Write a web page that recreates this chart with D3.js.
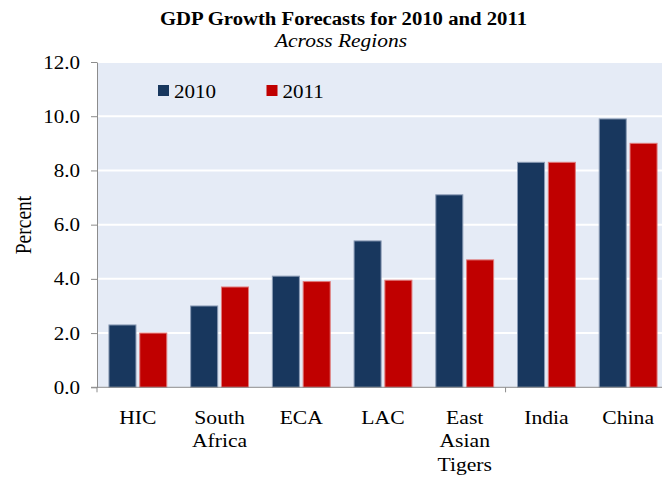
<!DOCTYPE html>
<html>
<head>
<meta charset="utf-8">
<script src="https://cdn.jsdelivr.net/npm/d3@7"></script>
<style>
  html, body { margin: 0; padding: 0; background: #ffffff; }
  svg { display: block; }
  text { font-family: "Liberation Serif", "Times New Roman", serif; fill: #000; }
</style>
</head>
<body>
<svg id="chart" width="662" height="477"></svg>
<script>
// Regions and forecast values (percent)
const categories = ["HIC", "South Africa", "ECA", "LAC", "East Asian Tigers", "India", "China"];
const categoryLines = [["HIC"], ["South", "Africa"], ["ECA"], ["LAC"], ["East", "Asian", "Tigers"], ["India"], ["China"]];
const seriesNames = ["2010", "2011"];
const values2010 = [2.3, 3.0, 4.1, 5.4, 7.1, 8.3, 9.9];
const values2011 = [2.0, 3.7, 3.9, 3.95, 4.7, 8.3, 9.0];
const yTicks = [0, 2, 4, 6, 8, 10, 12];
const titleText = "GDP Growth Forecasts for 2010 and 2011";
const subtitleText = "Across Regions";
const yLabel = "Percent";

const colors = { "2010": "#18375e", "2011": "#c00000" };
const strokes = { "2010": "#8a9bb5", "2011": "#e07a7a" };
const SX = 1.17; // horizontal text stretch

const svg = d3.select("#chart");
const plot = { left: 97, right: 669, top: 62, bottom: 387.3 };

const x = d3.scaleBand().domain(categories).range([plot.left, plot.right])
  .paddingInner(0.28).paddingOuter(0.14);
const xs = d3.scaleBand().domain(seriesNames).range([0, x.bandwidth()]).paddingInner(0.09);
const y = d3.scaleLinear().domain([0, 12]).range([plot.bottom, plot.top]);

const rows = categories.map((c, i) => ({ cat: c, vals: { "2010": values2010[i], "2011": values2011[i] } }));

// plot background
svg.append("rect")
  .attr("x", plot.left).attr("y", plot.top)
  .attr("width", plot.right - plot.left).attr("height", plot.bottom - plot.top)
  .attr("fill", "#e5ebf6");

// horizontal gridlines
svg.append("g").selectAll("line").data(yTicks.filter(t => t > 0)).join("line")
  .attr("x1", plot.left).attr("x2", plot.right)
  .attr("y1", d => y(d)).attr("y2", d => y(d))
  .attr("stroke", "#ffffff").attr("stroke-width", 2);

// bars
svg.append("g").selectAll("g").data(rows).join("g")
  .attr("transform", d => `translate(${x(d.cat)},0)`)
  .selectAll("rect").data(d => seriesNames.map(s => ({ s, v: d.vals[s] }))).join("rect")
  .attr("x", d => xs(d.s) + 0.5)
  .attr("y", d => y(d.v))
  .attr("width", xs.bandwidth() - 1)
  .attr("height", d => y(0) - y(d.v))
  .attr("fill", d => colors[d.s])
  .attr("stroke", d => strokes[d.s])
  .attr("stroke-width", 1);

// y axis
const yAxis = svg.append("g").attr("transform", `translate(${plot.left},0)`)
  .call(d3.axisLeft(y).tickValues(yTicks).tickFormat(d3.format(".1f")).tickSize(6).tickSizeOuter(0));
yAxis.select(".domain").attr("stroke", "#8c8c8c");
yAxis.selectAll(".tick line").attr("stroke", "#8c8c8c");
yAxis.selectAll(".tick text")
  .attr("x", -17 / SX).attr("dy", "0.34em")
  .attr("transform", `scale(${SX},1)`)
  .style("font-size", "18px").style("font-family", "'Liberation Serif', serif").attr("fill", "#000");

// x axis: ticks every five categories
const xAxisG = svg.append("g").attr("transform", `translate(0,${plot.bottom})`);
xAxisG.append("line").attr("x1", plot.left - 6).attr("x2", plot.right)
  .attr("stroke", "#8c8c8c").attr("stroke-width", 1);
const boundaries = [0, 5].map(i => x(categories[i]) - x.step() * x.paddingInner() / 2);
xAxisG.selectAll("line.tk").data(boundaries).join("line").attr("class", "tk")
  .attr("x1", d => d).attr("x2", d => d).attr("y1", 0).attr("y2", 5)
  .attr("stroke", "#8c8c8c");

// category labels
const lab = svg.append("g").selectAll("text").data(categories).join("text")
  .attr("transform", d => `translate(${x(d) + x.bandwidth() / 2},424) scale(${SX},1)`)
  .attr("text-anchor", "middle")
  .style("font-size", "18.5px");
lab.selectAll("tspan").data((d, i) => categoryLines[i]).join("tspan")
  .attr("x", 0).attr("y", (d, i) => i * 23.3).text(d => d);

// y axis label
svg.append("text")
  .attr("transform", `translate(31,225) scale(${SX},1) rotate(-90)`)
  .attr("text-anchor", "middle")
  .style("font-size", "19.5px")
  .text(yLabel);

// title and subtitle
svg.append("text")
  .attr("x", 160).attr("y", 25)
  .attr("textLength", 367).attr("lengthAdjust", "spacingAndGlyphs")
  .style("font-size", "18.5px").style("font-weight", "bold")
  .text(titleText);
svg.append("text")
  .attr("x", 275).attr("y", 47)
  .attr("textLength", 132).attr("lengthAdjust", "spacingAndGlyphs")
  .style("font-size", "18.5px").style("font-style", "italic")
  .text(subtitleText);

// legend
const legendX = [158, 266.5];
const leg = svg.append("g").selectAll("g").data(seriesNames).join("g")
  .attr("transform", (d, i) => `translate(${legendX[i]},85)`);
leg.append("rect").attr("width", 11).attr("height", 11).attr("fill", d => colors[d]);
leg.append("text")
  .attr("transform", `translate(16,13.3) scale(${SX},1)`)
  .style("font-size", "18px")
  .text(d => d);
</script>
</body>
</html>
